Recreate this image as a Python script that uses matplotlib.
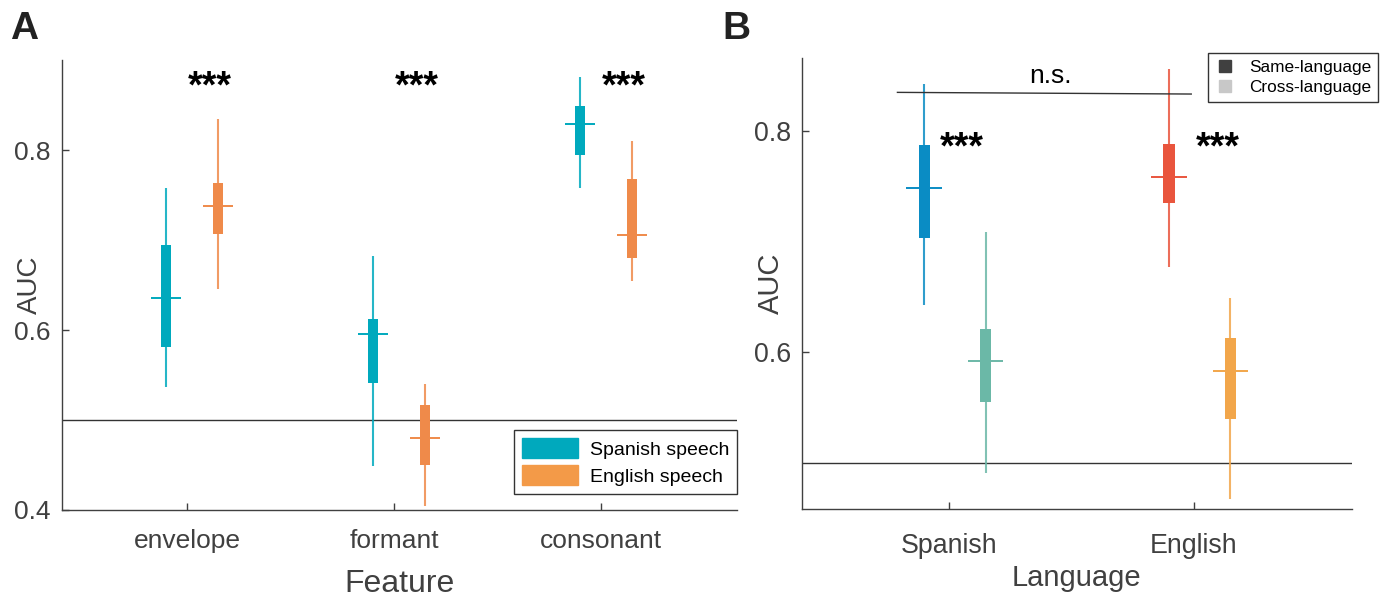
import matplotlib
matplotlib.use("Agg")
import matplotlib.pyplot as plt
from matplotlib.patches import Patch
from matplotlib.lines import Line2D

plt.rcParams['font.family'] = ['Liberation Sans', 'DejaVu Sans']

# panel A data: whislo, q1, median, q3, whishi
features = ['envelope', 'formant', 'consonant']
spa_lo = [0.537, 0.449, 0.758]
spa_q1 = [0.581, 0.541, 0.795]
spa_med = [0.636, 0.596, 0.829]
spa_q3 = [0.694, 0.612, 0.849]
spa_hi = [0.758, 0.682, 0.881]
eng_lo = [0.646, 0.404, 0.655]
eng_q1 = [0.707, 0.450, 0.680]
eng_med = [0.738, 0.480, 0.706]
eng_q3 = [0.763, 0.517, 0.768]
eng_hi = [0.834, 0.540, 0.810]

# panel B data: same- and cross-language decoding
languages = ['Spanish', 'English']
same_lo = [0.642, 0.677]
same_q1 = [0.703, 0.7345]
same_med = [0.748, 0.758]
same_q3 = [0.787, 0.788]
same_hi = [0.842, 0.856]
cross_lo = [0.491, 0.467]
cross_q1 = [0.555, 0.539]
cross_med = [0.592, 0.583]
cross_q3 = [0.621, 0.613]
cross_hi = [0.708, 0.649]

c_spa = '#00A9BD'
c_eng = '#EF8A4A'
c_same = ['#0A8CC4', '#E9553D']
c_cross = ['#6BB8A7', '#F2A64A']
axcol = '#404040'

fig = plt.figure(figsize=(13.86, 5.99), dpi=100)
axA = fig.add_axes([0.0447, 0.1486, 0.487, 0.7512])
axB = fig.add_axes([0.5786, 0.150, 0.3966, 0.754])


def draw_box(ax, x, lo, q1, med, q3, hi, col):
    ax.vlines(x, lo, hi, color=col, lw=1.5, alpha=0.85, zorder=2)
    ax.bar(x, q3 - q1, bottom=q1, width=0.047, color=col, edgecolor='none', zorder=3)
    ax.hlines(med, x - 0.073, x + 0.073, color=col, lw=1.4, zorder=4)


def style(ax, size, pad):
    for s in ['top', 'right']:
        ax.spines[s].set_visible(False)
    for s in ['left', 'bottom']:
        ax.spines[s].set_color(axcol)
        ax.spines[s].set_linewidth(1.0)
    ax.tick_params(direction='in', length=5, width=1, colors=axcol, labelsize=size)
    ax.tick_params(axis='x', pad=pad)
    ax.tick_params(axis='y', pad=8)


# ---- panel A
xs = [1, 2, 3]
for i in range(3):
    draw_box(axA, xs[i] - 0.10, spa_lo[i], spa_q1[i], spa_med[i], spa_q3[i], spa_hi[i], c_spa)
    draw_box(axA, xs[i] + 0.15, eng_lo[i], eng_q1[i], eng_med[i], eng_q3[i], eng_hi[i], c_eng)
    axA.text(xs[i] + 0.11, 0.858, '***', ha='center', va='baseline', fontsize=27, fontweight='bold')
axA.axhline(0.5, color='#333333', lw=1.0, zorder=1)
axA.set_xlim(0.396, 3.657)
axA.set_ylim(0.4, 0.9)
axA.set_xticks(xs)
axA.set_xticklabels(features)
axA.set_yticks([0.4, 0.6, 0.8])
style(axA, 19, 14)
axA.set_xlabel('Feature', fontsize=23, color=axcol, labelpad=11)
axA.set_ylabel('AUC', fontsize=20, color=axcol, va='center')
axA.yaxis.set_label_coords(-0.047, 0.5)
legA = axA.legend(handles=[Patch(color=c_spa, label='Spanish speech'),
                           Patch(color='#F39A48', label='English speech')],
                  loc='lower right', bbox_to_anchor=(1.0, 0.036), borderaxespad=0,
                  fontsize=14, handlelength=2.9, handleheight=1.2, fancybox=False,
                  edgecolor='#333333', framealpha=1, borderpad=0.4, labelspacing=0.35,
                  handletextpad=0.6)
legA.get_frame().set_linewidth(1.0)

# ---- panel B
xb = [1, 2]
for i in range(2):
    draw_box(axB, xb[i] - 0.10, same_lo[i], same_q1[i], same_med[i], same_q3[i], same_hi[i], c_same[i])
    draw_box(axB, xb[i] + 0.15, cross_lo[i], cross_q1[i], cross_med[i], cross_q3[i], cross_hi[i], c_cross[i])
axB.text(1.053, 0.775, '***', ha='center', va='baseline', fontsize=27, fontweight='bold')
axB.text(2.10, 0.775, '***', ha='center', va='baseline', fontsize=27, fontweight='bold')
axB.plot([0.79, 1.99], [0.8345, 0.833], color='#333333', lw=1.0)
axB.text(1.416, 0.843, 'n.s.', ha='center', va='baseline', fontsize=19)
axB.axhline(0.5, color='#333333', lw=1.0, zorder=1)
axB.set_xlim(0.40, 2.645)
axB.set_ylim(0.458, 0.866)
axB.set_xticks(xb)
axB.set_xticklabels(languages)
axB.set_yticks([0.6, 0.8])
style(axB, 19.3, 17)
axB.set_xlabel('Language', fontsize=21, color=axcol, labelpad=4)
axB.set_ylabel('AUC', fontsize=21, color=axcol, va='center')
axB.yaxis.set_label_coords(-0.056, 0.5)
legB = axB.legend(handles=[Line2D([], [], ls='none', marker='s', ms=8, color='#404040', label='Same-language'),
                           Line2D([], [], ls='none', marker='s', ms=8, color='#C8C8C8', label='Cross-language')],
                  loc='upper right', bbox_to_anchor=(1.048, 1.01), borderaxespad=0,
                  fontsize=12.4, handlelength=1.2, fancybox=False, edgecolor='#333333',
                  framealpha=1, borderpad=0.4, labelspacing=0.3, handletextpad=0.8)
legB.get_frame().set_linewidth(1.0)

fig.text(0.007, 0.935, 'A', fontsize=28, fontweight='bold', color='#222222')
fig.text(0.521, 0.935, 'B', fontsize=28, fontweight='bold', color='#222222')

fig.savefig('out.png', dpi=100)
